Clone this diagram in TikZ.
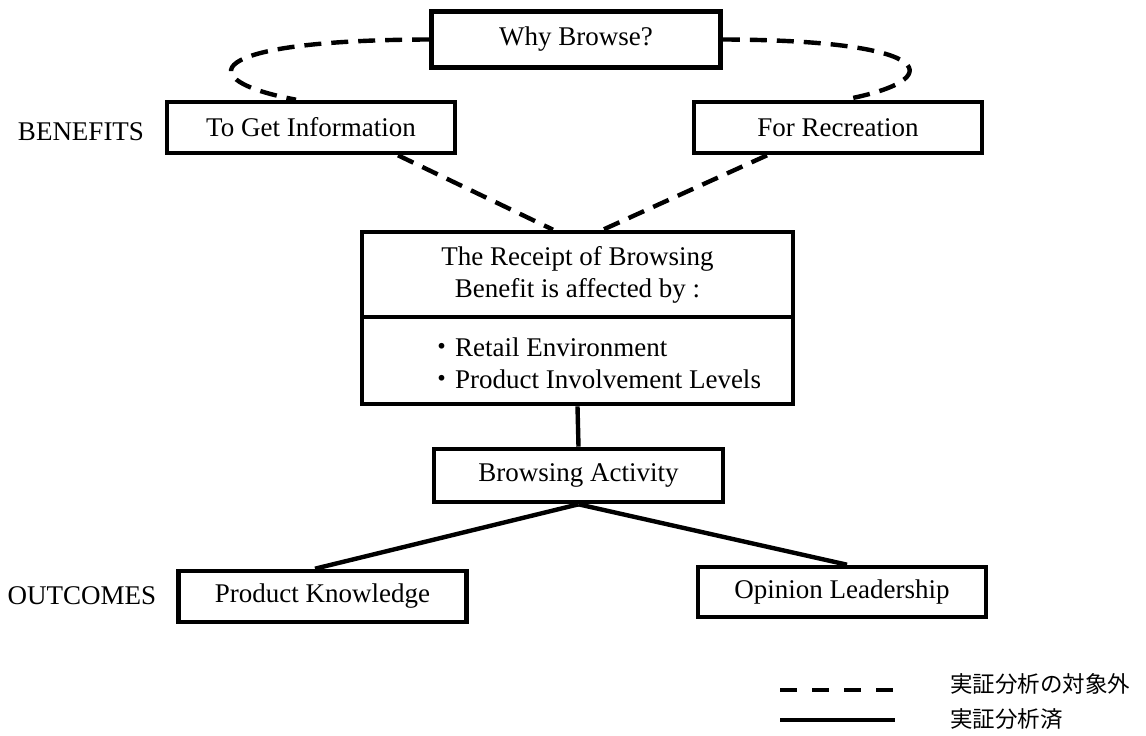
\documentclass[tikz,border=0pt]{standalone}
\usepackage{fontspec}
\setmainfont{Liberation Serif}
\newfontfamily\jpfont{Noto Sans CJK JP}

\begin{document}
\begin{tikzpicture}[x=0.5pt,y=-0.5pt,
  every node/.style={font=\fontsize{13.5pt}{16pt}\selectfont},
  box/.style={draw,line width=2.3pt,inner sep=0pt,align=center},
  wide/.style={box,minimum width=144pt,minimum height=25.5pt},
  link/.style={line width=2.2pt},
  nolink/.style={line width=2.2pt,dash pattern=on 8.5pt off 5pt},
  key/.style={anchor=west,font=\jpfont\fontsize{11.25pt}{13pt}\selectfont}]
 \useasboundingbox (0,0) rectangle (1146,735);

 \node[box,minimum width=144.5pt,minimum height=28pt] (why) at (576,39.5) {Why Browse?};
 \node (benefits) at (81,132) {BENEFITS};
 \node[wide] (info) at (311,127.5) {To Get Information};
 \node[wide] (recr) at (838,127.5) {For Recreation};

 \node[box,minimum width=215.5pt,minimum height=42.5pt] (receipt) at (577.5,274.5)
  {The Receipt of Browsing\\Benefit is affected by :};
 \node[box,minimum width=215.5pt,minimum height=43.5pt] (factors) at (577.5,360.5)
  {\hspace*{17pt}\raisebox{-3pt}[\height][\depth]{\begin{tabular}{@{}l@{}}
    {\jpfont ・}Retail Environment\\
    {\jpfont ・}Product Involvement Levels
   \end{tabular}}};
 \node[box,minimum width=144.5pt,minimum height=26.5pt] (browse) at (578.5,475.5) {Browsing Activity};

 \node (outcomes) at (82,595.5) {OUTCOMES};
 \node[wide] (know) at (322.5,596.5) {Product Knowledge};
 \node[wide,minimum height=25pt] (lead) at (842,592) {Opinion Leadership};

 \draw[nolink] (why.west) .. controls (200,40) and (190,80) .. ([xshift=-7.5pt]info.north);
 \draw[nolink] (why.east) .. controls (940,40) and (950,80) .. ([xshift=3pt]recr.north);
 \draw[nolink] ([xshift=43.5pt]info.south) -- ([xshift=-12.25pt]receipt.north);
 \draw[nolink] ([xshift=-35.5pt]recr.south) -- ([xshift=12.75pt]receipt.north);
 \draw[link] (factors.south) -- (browse.north);
 \draw[link] (browse.south) -- ([xshift=-3.75pt]know.north);
 \draw[link] (browse.south) -- ([xshift=2.5pt]lead.north);

 % legend
 \coordinate (d0) at (780,690);
 \coordinate (d1) at (895,690);
 \coordinate (s0) at (780,720);
 \coordinate (s1) at (895,720);
 \node[key] (skip) at (943,684) {実証分析の対象外};
 \node[key] (done) at (943,719) {実証分析済};
 \draw[nolink,dash pattern=on 8.5pt off 7.5pt] (d0) -- (d1);
 \draw[link] (s0) -- (s1);
\end{tikzpicture}
\end{document}
